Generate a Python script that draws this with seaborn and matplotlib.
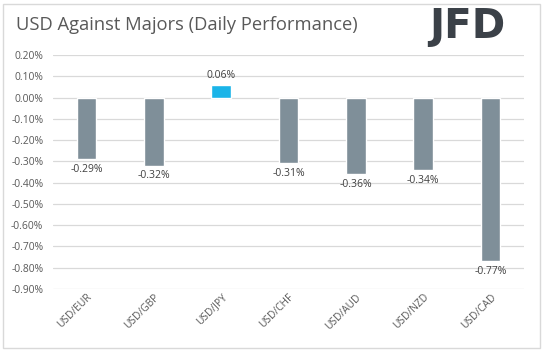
import matplotlib
matplotlib.use("Agg")
import matplotlib.pyplot as plt
import seaborn as sns
import pandas as pd
from matplotlib.patches import Rectangle

pairs = ["USD/EUR", "USD/GBP", "USD/JPY", "USD/CHF", "USD/AUD", "USD/NZD", "USD/CAD"]
values = [-0.29, -0.32, 0.06, -0.31, -0.36, -0.34, -0.77]
yticks = [0.20, 0.10, 0.00, -0.10, -0.20, -0.30, -0.40, -0.50, -0.60, -0.70, -0.80, -0.90]
title = "USD Against Majors (Daily Performance)"

df = pd.DataFrame({"pair": pairs, "value": values})
df["sign"] = ["pos" if v > 0 else "neg" for v in values]

sns.set_style("white")
plt.rcParams["font.family"] = ["Open Sans", "DejaVu Sans"]

fig = plt.figure(figsize=(5.44, 3.51), dpi=100)
ax = fig.add_axes([53/544, 1-289/351, 471/544, (289-55)/351])

sns.barplot(data=df, x="pair", y="value", hue="sign",
            palette={"neg": "#7f8f99", "pos": "#1ab4e8"},
            width=0.29, dodge=False, legend=False, ax=ax, saturation=1)

ax.set_ylim(-0.90, 0.20)
ax.set_yticks(yticks)
ax.set_yticklabels([f"{t:.2f}%" for t in yticks])
ax.grid(axis="y", color="#d9d9d9", linewidth=0.9)
ax.set_axisbelow(True)
for s in ax.spines.values():
    s.set_visible(False)
ax.set_xlabel("")
ax.set_ylabel("")
ax.tick_params(axis="both", length=0, labelsize=7.4, labelcolor="#595959", pad=7)
ax.tick_params(axis="x", pad=2)
for lab in ax.get_xticklabels():
    lab.set_rotation(45)
    lab.set_ha("right")
    lab.set_rotation_mode("anchor")

for i, v in enumerate(values):
    if v >= 0:
        ax.annotate(f"{v:.2f}%", (i, v), xytext=(0, 3), textcoords="offset points",
                    ha="center", va="bottom", fontsize=7.5, color="#404040")
    else:
        ax.annotate(f"{v:.2f}%", (i, v), xytext=(0, -3.5), textcoords="offset points",
                    ha="center", va="top", fontsize=7.5, color="#404040")

fig.text(16/544, 1-25/351, title, fontsize=13.2, color="#595959", va="center", ha="left")
fig.text(505/544, 1-27/351, "JFD", fontsize=29, fontweight="bold", color="#3b4148",
         va="center", ha="right", family=["DejaVu Sans"])

fig.patches.append(Rectangle((3/544, 3/351), 537/544, 344/351, transform=fig.transFigure,
                             fill=False, edgecolor="#d9d9d9", linewidth=1))

fig.savefig("out.png", dpi=100, facecolor="white")
